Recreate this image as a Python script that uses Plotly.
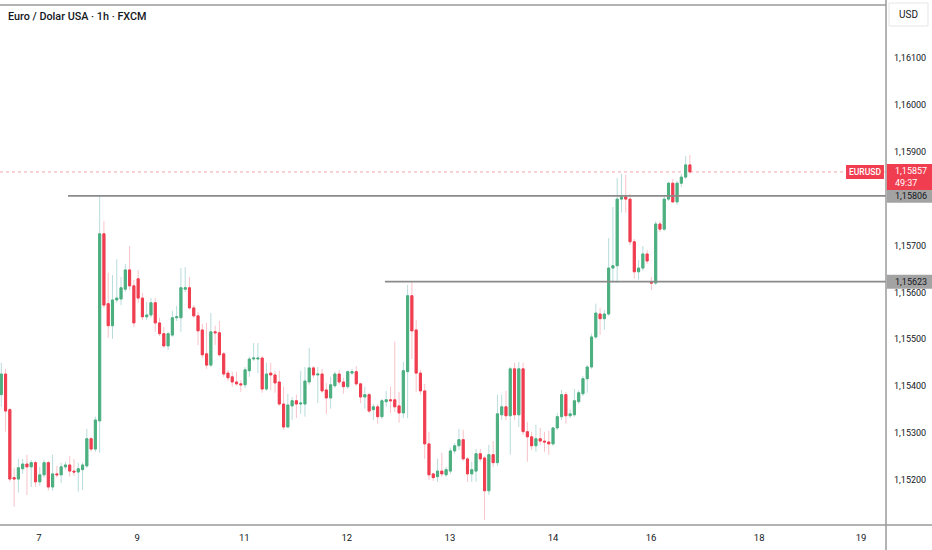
import plotly.graph_objects as go

# ---------------- data ----------------
title_text = "Euro / Dolar USA · 1h · FXCM"
symbol = "EURUSD"
currency = "USD"
countdown = "49:37"

opens = [1.15382, 1.15426, 1.15350, 1.15205, 1.15202, 1.15224, 1.15234, 1.15228, 1.15237, 1.15196,
         1.15211, 1.15237, 1.15185, 1.15213, 1.15211, 1.15228, 1.15232, 1.15219, 1.15217, 1.15222,
         1.15230, 1.15288, 1.15266, 1.15326, 1.15725, 1.15576, 1.15529, 1.15584, 1.15586, 1.15607,
         1.15648, 1.15614, 1.15629, 1.15588, 1.15548, 1.15552, 1.15578, 1.15535, 1.15512, 1.15486,
         1.15509, 1.15546, 1.15546, 1.15607, 1.15610, 1.15567, 1.15550, 1.15520, 1.15469, 1.15445,
         1.15516, 1.15514, 1.15469, 1.15428, 1.15420, 1.15409, 1.15405, 1.15403, 1.15433, 1.15458,
         1.15458, 1.15460, 1.15394, 1.15428, 1.15424, 1.15409, 1.15362, 1.15313, 1.15358, 1.15369,
         1.15362, 1.15362, 1.15409, 1.15439, 1.15424, 1.15426, 1.15392, 1.15375, 1.15401, 1.15426,
         1.15409, 1.15399, 1.15428, 1.15431, 1.15405, 1.15377, 1.15382, 1.15350, 1.15356, 1.15335,
         1.15367, 1.15371, 1.15371, 1.15358, 1.15343, 1.15431, 1.15593, 1.15520, 1.15428, 1.15390,
         1.15277, 1.15213, 1.15207, 1.15219, 1.15211, 1.15219, 1.15262, 1.15273, 1.15286, 1.15245,
         1.15213, 1.15219, 1.15256, 1.15247, 1.15177, 1.15254, 1.15237, 1.15339, 1.15356, 1.15337,
         1.15437, 1.15339, 1.15437, 1.15303, 1.15292, 1.15273, 1.15288, 1.15283, 1.15281, 1.15277,
         1.15311, 1.15335, 1.15382, 1.15337, 1.15339, 1.15367, 1.15384, 1.15416, 1.15441, 1.15505,
         1.15554, 1.15544, 1.15554, 1.15652, 1.15657, 1.15799, 1.15804, 1.15799, 1.15708, 1.15644,
         1.15652, 1.15682, 1.15622, 1.15620, 1.15746, 1.15735, 1.15799, 1.15833, 1.15793, 1.15833,
         1.15846, 1.15872]

highs = [1.15450, 1.15437, 1.15354, 1.15226, 1.15245, 1.15245, 1.15254, 1.15243, 1.15241, 1.15228,
         1.15243, 1.15241, 1.15254, 1.15230, 1.15237, 1.15239, 1.15251, 1.15245, 1.15237, 1.15237,
         1.15309, 1.15292, 1.15335, 1.15808, 1.15752, 1.15642, 1.15637, 1.15671, 1.15633, 1.15661,
         1.15699, 1.15627, 1.15648, 1.15599, 1.15580, 1.15588, 1.15588, 1.15546, 1.15526, 1.15516,
         1.15561, 1.15571, 1.15652, 1.15654, 1.15633, 1.15573, 1.15558, 1.15533, 1.15535, 1.15556,
         1.15529, 1.15539, 1.15473, 1.15435, 1.15431, 1.15431, 1.15413, 1.15441, 1.15463, 1.15492,
         1.15492, 1.15465, 1.15450, 1.15450, 1.15433, 1.15433, 1.15399, 1.15384, 1.15377, 1.15382,
         1.15433, 1.15441, 1.15482, 1.15443, 1.15441, 1.15437, 1.15407, 1.15420, 1.15431, 1.15435,
         1.15418, 1.15433, 1.15437, 1.15443, 1.15407, 1.15399, 1.15386, 1.15362, 1.15362, 1.15373,
         1.15390, 1.15399, 1.15495, 1.15388, 1.15452, 1.15616, 1.15622, 1.15541, 1.15435, 1.15405,
         1.15303, 1.15215, 1.15245, 1.15258, 1.15228, 1.15269, 1.15279, 1.15309, 1.15307, 1.15249,
         1.15239, 1.15266, 1.15266, 1.15251, 1.15275, 1.15283, 1.15382, 1.15382, 1.15390, 1.15441,
         1.15450, 1.15452, 1.15450, 1.15324, 1.15303, 1.15318, 1.15311, 1.15303, 1.15305, 1.15313,
         1.15343, 1.15392, 1.15388, 1.15350, 1.15394, 1.15392, 1.15422, 1.15445, 1.15512, 1.15576,
         1.15567, 1.15563, 1.15716, 1.15782, 1.15844, 1.15853, 1.15851, 1.15810, 1.15714, 1.15669,
         1.15699, 1.15691, 1.15633, 1.15752, 1.15752, 1.15806, 1.15836, 1.15842, 1.15838, 1.15853,
         1.15891, 1.15893]

lows = [1.15356, 1.15303, 1.15196, 1.15143, 1.15173, 1.15213, 1.15168, 1.15185, 1.15185, 1.15188,
        1.15205, 1.15177, 1.15177, 1.15205, 1.15194, 1.15222, 1.15207, 1.15209, 1.15175, 1.15179,
        1.15226, 1.15260, 1.15260, 1.15258, 1.15567, 1.15503, 1.15501, 1.15578, 1.15573, 1.15601,
        1.15605, 1.15526, 1.15578, 1.15541, 1.15541, 1.15546, 1.15516, 1.15507, 1.15482, 1.15477,
        1.15505, 1.15539, 1.15516, 1.15601, 1.15563, 1.15546, 1.15488, 1.15460, 1.15437, 1.15441,
        1.15488, 1.15463, 1.15420, 1.15411, 1.15399, 1.15401, 1.15388, 1.15396, 1.15420, 1.15454,
        1.15428, 1.15386, 1.15390, 1.15392, 1.15386, 1.15358, 1.15307, 1.15311, 1.15328, 1.15332,
        1.15341, 1.15335, 1.15403, 1.15418, 1.15364, 1.15386, 1.15341, 1.15352, 1.15396, 1.15403,
        1.15384, 1.15394, 1.15424, 1.15401, 1.15364, 1.15352, 1.15343, 1.15328, 1.15320, 1.15330,
        1.15356, 1.15343, 1.15345, 1.15322, 1.15332, 1.15332, 1.15458, 1.15388, 1.15382, 1.15245,
        1.15200, 1.15198, 1.15196, 1.15207, 1.15207, 1.15213, 1.15256, 1.15264, 1.15241, 1.15196,
        1.15196, 1.15196, 1.15239, 1.15115, 1.15168, 1.15228, 1.15230, 1.15328, 1.15328, 1.15254,
        1.15328, 1.15313, 1.15296, 1.15239, 1.15264, 1.15260, 1.15275, 1.15260, 1.15254, 1.15273,
        1.15307, 1.15328, 1.15320, 1.15332, 1.15335, 1.15362, 1.15379, 1.15386, 1.15437, 1.15501,
        1.15509, 1.15520, 1.15550, 1.15620, 1.15620, 1.15770, 1.15770, 1.15701, 1.15629, 1.15627,
        1.15646, 1.15661, 1.15605, 1.15616, 1.15729, 1.15731, 1.15795, 1.15791, 1.15787, 1.15825,
        1.15842, 1.15853]

closes = [1.15426, 1.15347, 1.15202, 1.15202, 1.15226, 1.15234, 1.15228, 1.15237, 1.15196, 1.15211,
          1.15237, 1.15185, 1.15213, 1.15211, 1.15228, 1.15232, 1.15219, 1.15217, 1.15224, 1.15232,
          1.15288, 1.15266, 1.15328, 1.15725, 1.15573, 1.15529, 1.15584, 1.15588, 1.15610, 1.15648,
          1.15614, 1.15535, 1.15588, 1.15548, 1.15552, 1.15578, 1.15535, 1.15512, 1.15486, 1.15512,
          1.15546, 1.15548, 1.15610, 1.15610, 1.15567, 1.15550, 1.15518, 1.15467, 1.15445, 1.15516,
          1.15514, 1.15467, 1.15426, 1.15418, 1.15409, 1.15405, 1.15403, 1.15435, 1.15458, 1.15460,
          1.15460, 1.15394, 1.15426, 1.15424, 1.15407, 1.15362, 1.15313, 1.15360, 1.15369, 1.15362,
          1.15364, 1.15411, 1.15439, 1.15424, 1.15426, 1.15390, 1.15375, 1.15403, 1.15426, 1.15409,
          1.15399, 1.15431, 1.15431, 1.15405, 1.15377, 1.15382, 1.15347, 1.15356, 1.15335, 1.15369,
          1.15371, 1.15369, 1.15356, 1.15343, 1.15433, 1.15593, 1.15518, 1.15428, 1.15390, 1.15277,
          1.15211, 1.15205, 1.15219, 1.15213, 1.15222, 1.15262, 1.15273, 1.15286, 1.15245, 1.15213,
          1.15222, 1.15256, 1.15245, 1.15177, 1.15254, 1.15237, 1.15341, 1.15356, 1.15337, 1.15437,
          1.15339, 1.15437, 1.15303, 1.15292, 1.15273, 1.15288, 1.15283, 1.15281, 1.15277, 1.15311,
          1.15335, 1.15382, 1.15337, 1.15341, 1.15369, 1.15386, 1.15416, 1.15441, 1.15505, 1.15556,
          1.15544, 1.15554, 1.15652, 1.15657, 1.15799, 1.15804, 1.15799, 1.15708, 1.15644, 1.15652,
          1.15682, 1.15667, 1.15620, 1.15746, 1.15735, 1.15799, 1.15833, 1.15793, 1.15833, 1.15846,
          1.15872, 1.15857]

bar_index = list(range(len(opens)))

day_tick_pos = [8.8, 31.8, 56.8, 80.8, 104.9, 129.0, 151.9, 177.2, 201.0]
day_tick_labels = ["7", "9", "11", "12", "13", "14", "16", "18", "19"]

price_ticks = [1.152, 1.153, 1.154, 1.155, 1.156, 1.157, 1.159, 1.160, 1.161]

level_prices = [1.15806, 1.15623]
level_start = [15.6, 89.7]

x_range = [-0.3, 206.85]
y_range = [1.15104, 1.16213]

# ---------------- style ----------------
GREEN = "#4caf7f"
RED = "#f03d4f"
GREEN_WICK = "#b9dcdc"
RED_WICK = "#f8c3c9"
TEXT = "#131722"
LINE_GRAY = "#8a8a8a"
FONT = "Roboto"
AX_SIZE = 9

def fmt(p):
    return f"{p:.5f}".replace(".", ",")

body_hi = [max(o, c) for o, c in zip(opens, closes)]
body_lo = [min(o, c) for o, c in zip(opens, closes)]

fig = go.Figure()
# wicks
fig.add_trace(go.Candlestick(
    x=bar_index, open=opens, high=highs, low=lows, close=closes,
    increasing=dict(line=dict(color=GREEN_WICK, width=1), fillcolor=GREEN_WICK),
    decreasing=dict(line=dict(color=RED_WICK, width=1), fillcolor=RED_WICK),
    hoverinfo="skip", showlegend=False,
))
# bodies
fig.add_trace(go.Candlestick(
    x=bar_index, open=opens, high=body_hi, low=body_lo, close=closes,
    increasing=dict(line=dict(color=GREEN, width=1), fillcolor=GREEN),
    decreasing=dict(line=dict(color=RED, width=1), fillcolor=RED),
    hoverinfo="skip", showlegend=False,
))

shapes = []
last = closes[-1]
shapes.append(dict(type="line", xref="paper", yref="y", x0=0, x1=1, y0=last, y1=last,
                   line=dict(color="#f5a3ab", width=1, dash="dot"), layer="below"))
for lp, ls in zip(level_prices, level_start):
    shapes.append(dict(type="line", xref="x", yref="y", x0=ls, x1=x_range[1], y0=lp, y1=lp,
                       line=dict(color=LINE_GRAY, width=1.6), layer="above"))
shapes.append(dict(type="line", xref="paper", yref="paper", x0=0, x1=1, y0=1, y1=1,
                   line=dict(color="#9a9a9a", width=1.5)))
shapes.append(dict(type="line", xref="paper", yref="paper", x0=0, x1=1.06, y0=0, y1=0,
                   line=dict(color="#9a9a9a", width=1.5)))
shapes.append(dict(type="line", xref="paper", yref="paper", x0=1, x1=1, y0=-0.06, y1=1.02,
                   line=dict(color="#9a9a9a", width=1.5)))

PX = 2.132e-5  # price per pixel (for label box sizes)
for lp in level_prices:
    shapes.append(dict(type="rect", xref="paper", yref="y", x0=1.001, x1=1.06,
                       y0=lp - 7 * PX, y1=lp + 7 * PX, fillcolor="#a3a3a3", line=dict(width=0)))
shapes.append(dict(type="rect", xref="paper", yref="y", x0=1.001, x1=1.06,
                   y0=last - 18 * PX, y1=last + 8 * PX, fillcolor=RED, line=dict(width=0)))
shapes.append(dict(type="rect", xref="paper", yref="y", x0=0.9549, x1=0.9977,
                   y0=last - 7 * PX, y1=last + 7 * PX, fillcolor=RED, line=dict(width=0)))
shapes.append(dict(type="rect", xref="paper", yref="paper", x0=1.0034, x1=1.0474,
                   y0=0.9596, y1=1.0038, fillcolor="white", line=dict(color="#e6e6e6", width=1)))

annotations = [
    dict(text=title_text, xref="paper", yref="paper", x=0.007, y=0.977, xanchor="left",
         yanchor="middle", showarrow=False,
         font=dict(family=FONT, size=10.8, color=TEXT, weight=500)),
    dict(text=currency, xref="paper", yref="paper", x=1.0254, y=0.9817, xanchor="center",
         yanchor="middle", showarrow=False, font=dict(family=FONT, size=10, color=TEXT)),
    dict(text=symbol, xref="paper", yref="y", x=0.9763, y=last, xanchor="center",
         yanchor="middle", showarrow=False,
         font=dict(family=FONT, size=8.5, color="white", weight=500)),
    dict(text=fmt(last), xref="paper", yref="y", x=1.0079, y=last + 1 * PX, xanchor="left",
         yanchor="middle", showarrow=False, font=dict(family=FONT, size=AX_SIZE, color="white")),
    dict(text=countdown, xref="paper", yref="y", x=1.0079, y=last - 11 * PX, xanchor="left",
         yanchor="middle", showarrow=False, font=dict(family=FONT, size=AX_SIZE, color="white")),
]
for lp in level_prices:
    annotations.append(dict(text=fmt(lp), xref="paper", yref="y", x=1.0079, y=lp, xanchor="left",
                            yanchor="middle", showarrow=False,
                            font=dict(family=FONT, size=AX_SIZE, color=TEXT)))

fig.update_layout(
    width=932, height=550,
    margin=dict(l=0, r=46, t=5, b=25),
    paper_bgcolor="white", plot_bgcolor="white",
    font=dict(family=FONT, size=AX_SIZE, color=TEXT),
    shapes=shapes, annotations=annotations,
    showlegend=False,
    xaxis=dict(range=x_range, rangeslider=dict(visible=False), showgrid=False, zeroline=False,
               showline=False, tickmode="array", tickvals=day_tick_pos, ticktext=day_tick_labels,
               ticks="", ticklabelstandoff=5, tickfont=dict(family=FONT, size=9.5, color=TEXT),
               fixedrange=True),
    yaxis=dict(range=y_range, side="right", showgrid=False, zeroline=False, showline=False,
               tickmode="array", tickvals=price_ticks, ticktext=[fmt(p) for p in price_ticks],
               ticks="", ticklabelstandoff=7, tickfont=dict(family=FONT, size=AX_SIZE, color=TEXT),
               fixedrange=True),
)

fig.write_html(
    "out.html",
    config={"displayModeBar": False, "staticPlot": True},
    post_script="document.body.style.margin='0';document.body.style.overflow='hidden';",
)
